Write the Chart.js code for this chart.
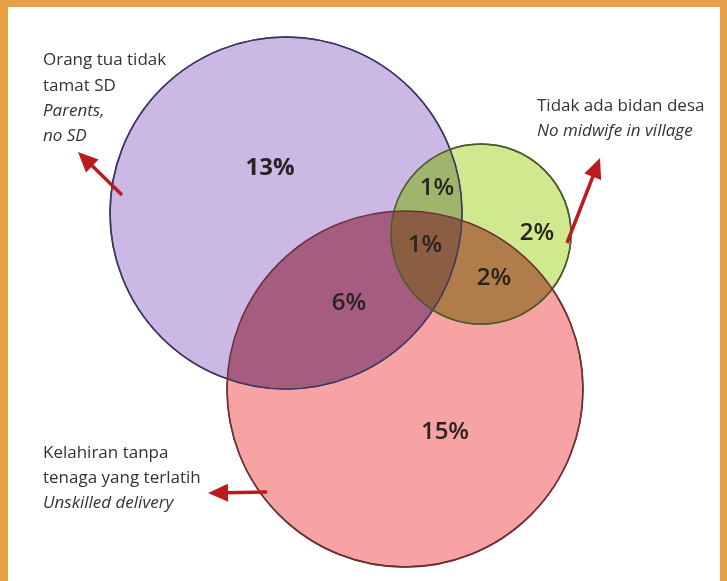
<!DOCTYPE html>
<html lang="id">
<head>
<meta charset="UTF-8" />
<title>Venn</title>
<script src="https://cdn.jsdelivr.net/npm/chart.js"></script>
<style>
    html, body { margin: 0; padding: 0; }
    body {
        width: 727px;
        height: 581px;
        background: #e8a046;
        position: relative;
        overflow: hidden;
    }
    .panel {
        position: absolute;
        left: 8px;
        top: 7px;
        width: 712px;
        height: 574px;
        background: #ffffff;
    }
</style>
</head>
<body>
<div class="panel">
    <canvas id="venn"></canvas>
</div>
<script>
// circles: parents no SD, no midwife, unskilled delivery
const setNames = ['Orang tua tidak tamat SD', 'Tidak ada bidan desa', 'Kelahiran tanpa tenaga yang terlatih'];
const centerX = [286, 481, 405];
const centerY = [213, 234, 389];
const radius = [176, 90, 178];
const fillColors = ['#cbb8e4', '#d0e98f', '#f8a3a3'];
const edgeColors = ['#3c3664', '#4c5a2c', '#6a3236'];

const xMin = 8, xMax = 720, yMin = 7, yMax = 581;

// region percentages
const regionText = ['13%', '1%', '2%', '1%', '2%', '6%', '15%'];
const regionX = [270, 437, 537, 425, 494, 349, 445];
const regionY = [168, 188, 233, 245, 278, 303, 432];
const regionWeight = [700, 600, 600, 600, 600, 600, 600];

// annotation lines of text
const noteLines = [
    ['Orang tua tidak', 43, 60, false],
    ['tamat SD', 43, 86, false],
    ['Parents,', 43, 111, true],
    ['no SD', 43, 136, true],
    ['Tidak ada bidan desa', 537, 106, false],
    ['No midwife in village', 537, 131, true],
    ['Kelahiran tanpa', 43, 453, false],
    ['tenaga yang terlatih', 43, 478, false],
    ['Unskilled delivery', 43, 503, true]
];
// arrows [fromX, fromY, toX, toY]
const arrows = [
    [122, 195, 78, 152],
    [567, 243, 600, 158],
    [267, 492, 208, 493]
];

const overlapFills = {
    '0,1': '#9fb56e',
    '0,2': '#a55c80',
    '1,2': '#b07c4a',
    '0,1,2': '#8b5e43'
};

const plugin = {
    id: 'vennExtras',
    afterDatasetsDraw(chart) {
        const ctx = chart.ctx;
        const sx = chart.scales.x, sy = chart.scales.y;
        const px = v => sx.getPixelForValue(v);
        const py = v => sy.getPixelForValue(v);
        const pr = i => sx.getPixelForValue(centerX[i] + radius[i]) - px(centerX[i]);
        const circlePath = i => {
            ctx.beginPath();
            ctx.arc(px(centerX[i]), py(centerY[i]), pr(i), 0, Math.PI * 2);
        };

        // overlaps
        Object.keys(overlapFills).forEach(key => {
            const ids = key.split(',').map(Number);
            ctx.save();
            ids.slice(1).forEach(i => { circlePath(i); ctx.clip(); });
            circlePath(ids[0]);
            ctx.fillStyle = overlapFills[key];
            ctx.fill();
            ctx.restore();
        });

        // outlines
        ctx.save();
        ctx.lineWidth = 1.5;
        [0, 1, 2].forEach(i => {
            circlePath(i);
            ctx.strokeStyle = edgeColors[i];
            ctx.stroke();
        });
        ctx.restore();

        // percentages
        ctx.save();
        ctx.fillStyle = '#2a2420';
        ctx.textAlign = 'center';
        ctx.textBaseline = 'middle';
        regionText.forEach((t, i) => {
            ctx.font = regionWeight[i] + ' 24px "Open Sans"';
            ctx.fillText(t, px(regionX[i]), py(regionY[i]));
        });
        ctx.restore();

        // notes
        ctx.save();
        ctx.fillStyle = '#333333';
        ctx.textAlign = 'left';
        ctx.textBaseline = 'middle';
        noteLines.forEach(([t, x, y, it]) => {
            ctx.font = (it ? 'italic ' : '') + '17px "Open Sans"';
            ctx.fillText(t, px(x), py(y));
        });
        ctx.restore();

        // arrows
        ctx.save();
        ctx.strokeStyle = '#bd1a1e';
        ctx.fillStyle = '#bd1a1e';
        ctx.lineWidth = 3.5;
        arrows.forEach(([x1, y1, x2, y2]) => {
            const ax = px(x1), ay = py(y1), bx = px(x2), by = py(y2);
            const ang = Math.atan2(by - ay, bx - ax);
            const hl = 20, hw = 9;
            const bx0 = bx - hl * Math.cos(ang), by0 = by - hl * Math.sin(ang);
            ctx.beginPath();
            ctx.moveTo(ax, ay);
            ctx.lineTo(bx0 + 2 * Math.cos(ang), by0 + 2 * Math.sin(ang));
            ctx.stroke();
            ctx.beginPath();
            ctx.moveTo(bx, by);
            ctx.lineTo(bx0 + hw * Math.sin(ang), by0 - hw * Math.cos(ang));
            ctx.lineTo(bx0 - hw * Math.sin(ang), by0 + hw * Math.cos(ang));
            ctx.closePath();
            ctx.fill();
        });
        ctx.restore();
    }
};

new Chart(document.getElementById('venn'), {
    type: 'bubble',
    data: {
        datasets: [0, 1, 2].map(i => ({
            label: setNames[i],
            data: [{ x: centerX[i], y: centerY[i] }],
            backgroundColor: fillColors[i],
            borderColor: edgeColors[i],
            borderWidth: 1.5,
            // bubble radius is resolved while parsing, before the scales are laid out,
            // so convert data units to pixels from the x range and the canvas width
            radius: ctx => {
                const w = ctx.chart.chartArea ? ctx.chart.chartArea.width : ctx.chart.width;
                return radius[i] * w / (xMax - xMin);
            },
            clip: false
        }))
    },
    options: {
        responsive: true,
        maintainAspectRatio: false,
        animation: false,
        events: [],
        layout: { padding: 0, autoPadding: false },
        plugins: { legend: { display: false }, tooltip: { enabled: false } },
        scales: {
            x: { type: 'linear', min: xMin, max: xMax, display: false },
            y: { type: 'linear', min: yMin, max: yMax, reverse: true, display: false }
        }
    },
    plugins: [plugin]
});
</script>
</body>
</html>
